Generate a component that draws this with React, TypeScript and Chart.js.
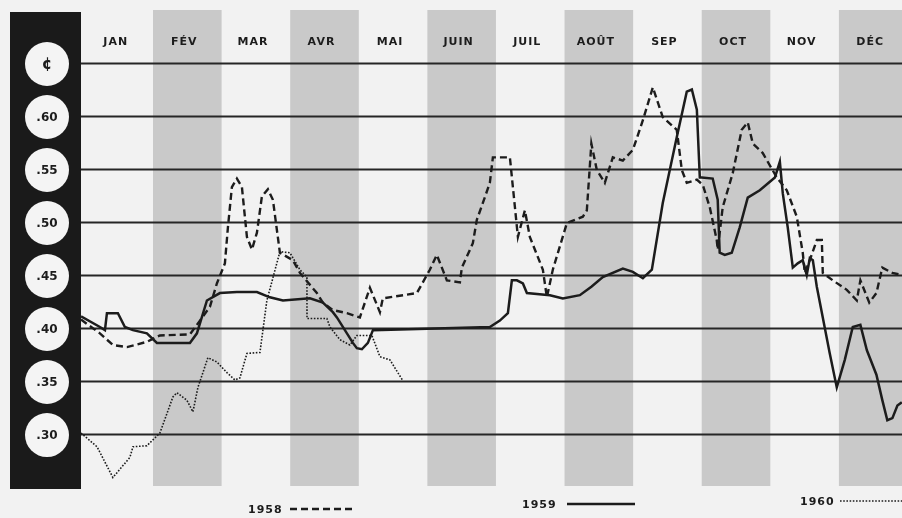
import React, { useEffect, useRef } from "react";
import { Chart, registerables } from "chart.js";

Chart.register(...registerables);

// Month columns along the top
const MONTHS = ["JAN", "FÉV", "MAR", "AVR", "MAI", "JUIN", "JUIL", "AOÛT", "SEP", "OCT", "NOV", "DÉC"];

// Price scale (dollars) and the labels shown in the discs on the left
const PRICE_TICKS = [0.3, 0.35, 0.4, 0.45, 0.5, 0.55, 0.6, 0.65];
const PRICE_LABELS = [".30", ".35", ".40", ".45", ".50", ".55", ".60", "¢"];

const YEARS = ["1958", "1959", "1960"];

// Time is in months counted from 1 January; values are prices in dollars.
const T_1958 = [
  -0.05, 0.226, 0.415, 0.62, 0.911, 1.1, 1.538, 1.684, 1.829, 1.931, 2.048, 2.092, 2.15, 2.223, 2.296,
  2.369, 2.442, 2.515, 2.587, 2.675, 2.748, 2.85, 3.039, 3.142, 3.389, 3.477, 3.622, 3.827, 4.016, 4.162,
  4.308, 4.351, 4.847, 5.036, 5.138, 5.284, 5.474, 5.503, 5.663, 5.721, 5.809, 5.911, 5.955, 6.203, 6.32,
  6.422, 6.494, 6.684, 6.742, 6.829, 7.034, 7.267, 7.325, 7.391, 7.471, 7.587, 7.704, 7.85, 7.996, 8.142,
  8.287, 8.432, 8.636, 8.71, 8.782, 8.929, 9.016, 9.117, 9.219, 9.233, 9.306, 9.452, 9.583, 9.671, 9.745,
  9.89, 10.095, 10.24, 10.386, 10.473, 10.503, 10.576, 10.678, 10.751, 10.765, 10.911, 11.115, 11.261,
  11.313, 11.443, 11.547, 11.633, 11.78, 11.917,
];
const V_1958 = [
  0.408, 0.395, 0.384, 0.382, 0.387, 0.393, 0.394, 0.407, 0.42, 0.442, 0.461, 0.495, 0.533, 0.541, 0.533,
  0.486, 0.474, 0.49, 0.524, 0.531, 0.521, 0.471, 0.464, 0.452, 0.433, 0.424, 0.417, 0.414, 0.41, 0.438,
  0.415, 0.428, 0.433, 0.455, 0.469, 0.445, 0.443, 0.457, 0.48, 0.502, 0.518, 0.537, 0.561, 0.561, 0.486,
  0.511, 0.486, 0.455, 0.429, 0.455, 0.499, 0.505, 0.511, 0.574, 0.549, 0.537, 0.561, 0.558, 0.568, 0.596,
  0.627, 0.599, 0.587, 0.549, 0.537, 0.54, 0.535, 0.514, 0.483, 0.474, 0.514, 0.546, 0.587, 0.594, 0.574,
  0.565, 0.542, 0.53, 0.505, 0.471, 0.452, 0.464, 0.483, 0.483, 0.452, 0.445, 0.436, 0.426, 0.445, 0.424,
  0.433, 0.457, 0.452, 0.45,
];

const T_1959 = [
  -0.05, 0.226, 0.299, 0.328, 0.488, 0.59, 0.707, 0.911, 1.057, 1.538, 1.64, 1.786, 1.975, 2.223, 2.515,
  2.704, 2.894, 3.287, 3.477, 3.622, 3.681, 3.914, 3.972, 4.045, 4.133, 4.206, 5.911, 6.057, 6.174, 6.232,
  6.305, 6.393, 6.451, 6.786, 6.975, 7.223, 7.391, 7.558, 7.85, 7.996, 8.142, 8.273, 8.432, 8.636, 8.782,
  8.856, 8.929, 8.972, 9.001, 9.16, 9.233, 9.262, 9.336, 9.438, 9.554, 9.671, 9.847, 10.067, 10.139, 10.182,
  10.254, 10.328, 10.4, 10.473, 10.531, 10.576, 10.62, 10.678, 10.765, 10.867, 10.969, 11.086, 11.202,
  11.313, 11.408, 11.547, 11.633, 11.706, 11.78, 11.853, 11.917,
];
const V_1959 = [
  0.411, 0.401, 0.398, 0.414, 0.414, 0.401, 0.398, 0.395, 0.386, 0.386, 0.395, 0.426, 0.433, 0.434, 0.434,
  0.429, 0.426, 0.428, 0.424, 0.415, 0.41, 0.386, 0.381, 0.38, 0.386, 0.398, 0.401, 0.407, 0.414, 0.445,
  0.445, 0.442, 0.433, 0.431, 0.428, 0.431, 0.439, 0.448, 0.456, 0.453, 0.447, 0.455, 0.518, 0.58, 0.623,
  0.625, 0.606, 0.542, 0.542, 0.541, 0.521, 0.471, 0.469, 0.471, 0.495, 0.523, 0.53, 0.542, 0.557, 0.527,
  0.495, 0.457, 0.461, 0.464, 0.45, 0.466, 0.464, 0.439, 0.41, 0.376, 0.344, 0.37, 0.401, 0.403, 0.379,
  0.356, 0.332, 0.313, 0.315, 0.327, 0.33,
];

const T_1960 = [
  -0.05, 0.184, 0.415, 0.663, 0.707, 0.911, 1.1, 1.29, 1.348, 1.493, 1.582, 1.655, 1.8, 1.931, 2.077,
  2.194, 2.267, 2.369, 2.559, 2.66, 2.85, 2.996, 3.142, 3.244, 3.245, 3.535, 3.579, 3.724, 3.87, 3.972,
  4.191, 4.308, 4.454, 4.636,
];
const V_1960 = [
  0.301, 0.288, 0.259, 0.278, 0.288, 0.289, 0.301, 0.335, 0.339, 0.332, 0.321, 0.344, 0.372, 0.368, 0.358,
  0.351, 0.353, 0.376, 0.377, 0.426, 0.472, 0.471, 0.455, 0.448, 0.409, 0.409, 0.401, 0.389, 0.384, 0.393,
  0.393, 0.373, 0.37, 0.351,
];

const X_MIN = -0.05;
const X_MAX = 11.92;
const Y_MIN = 0.251;
const Y_MAX = 0.7;

const INK = "#1c1c1c";
const PAPER = "#f2f2f2";
const SHADE = "#c9c9c9";

const SERIES_STYLE = [
  { width: 2.4, dash: [7, 4] },
  { width: 2.5, dash: [] as number[] },
  { width: 1.6, dash: [1.6, 1.6] },
];

const toPoints = (ts: number[], vs: number[]) => ts.map((t, i) => ({ x: t, y: vs[i] }));

const paperPlugin = {
  id: "paper",
  beforeDraw(chart: any) {
    const { ctx, chartArea, scales } = chart;
    const xs = scales.x;
    const ys = scales.y;
    ctx.save();
    ctx.fillStyle = PAPER;
    ctx.fillRect(0, 0, chart.width, chart.height);

    // alternating month columns
    ctx.fillStyle = SHADE;
    for (let i = 1; i < 12; i += 2) {
      const x0 = Math.max(xs.getPixelForValue(i), chartArea.left);
      const x1 = Math.min(xs.getPixelForValue(i + 1), chartArea.right);
      ctx.fillRect(x0, chartArea.top, x1 - x0, chartArea.bottom - chartArea.top);
    }

    // horizontal price lines
    ctx.strokeStyle = "#262626";
    ctx.lineWidth = 1.8;
    PRICE_TICKS.forEach((v) => {
      const y = Math.round(ys.getPixelForValue(v)) + 0.5;
      ctx.beginPath();
      ctx.moveTo(chartArea.left, y);
      ctx.lineTo(chartArea.right, y);
      ctx.stroke();
    });

    // month names
    ctx.fillStyle = INK;
    ctx.font = "bold 11px 'DejaVu Sans', sans-serif";
    (ctx as any).letterSpacing = "1px";
    ctx.textAlign = "center";
    ctx.textBaseline = "middle";
    MONTHS.forEach((m, i) => {
      const cx = xs.getPixelForValue(i + 0.5) - 3;
      ctx.fillText(m, cx, chartArea.top + 32);
    });

    // dark price panel with discs
    ctx.fillStyle = "#1a1a1a";
    ctx.fillRect(10, chartArea.top + 2, chartArea.left - 10, chartArea.bottom - chartArea.top + 1);
    const cx = chartArea.left - 34;
    (ctx as any).letterSpacing = "0px";
    PRICE_TICKS.forEach((v, i) => {
      const cy = ys.getPixelForValue(v) + 1;
      ctx.fillStyle = "#f4f4f4";
      ctx.beginPath();
      ctx.arc(cx, cy, 22, 0, Math.PI * 2);
      ctx.fill();
      ctx.fillStyle = INK;
      ctx.font = PRICE_LABELS[i] === "¢" ? "bold 15px 'DejaVu Sans', sans-serif" : "bold 12px 'DejaVu Sans', sans-serif";
      ctx.fillText(PRICE_LABELS[i], cx, cy + 1);
    });
    ctx.restore();
  },
  afterDraw(chart: any) {
    const { ctx } = chart;
    const spots = [
      { tx: 248, ty: 510, lx0: 290, lx1: 356 },
      { tx: 522, ty: 505, lx0: 567, lx1: 635 },
      { tx: 800, ty: 502, lx0: 840, lx1: 902 },
    ];
    ctx.save();
    ctx.fillStyle = INK;
    ctx.strokeStyle = INK;
    ctx.font = "bold 11px 'DejaVu Sans', sans-serif";
    (ctx as any).letterSpacing = "1px";
    ctx.textAlign = "left";
    ctx.textBaseline = "middle";
    YEARS.forEach((yr, i) => {
      const s = spots[i];
      ctx.fillText(yr, s.tx, s.ty);
      ctx.lineWidth = SERIES_STYLE[i].width;
      ctx.setLineDash(SERIES_STYLE[i].dash);
      ctx.beginPath();
      ctx.moveTo(s.lx0, s.ty - 1);
      ctx.lineTo(s.lx1, s.ty - 1);
      ctx.stroke();
    });
    ctx.restore();
  },
};

export default function App() {
  const canvasRef = useRef<HTMLCanvasElement | null>(null);

  useEffect(() => {
    if (!canvasRef.current) return;
    const seriesData = [toPoints(T_1958, V_1958), toPoints(T_1959, V_1959), toPoints(T_1960, V_1960)];
    const chart = new Chart(canvasRef.current, {
      type: "line",
      data: {
        datasets: YEARS.map((yr, i) => ({
          label: yr,
          data: seriesData[i],
          borderColor: INK,
          borderWidth: SERIES_STYLE[i].width,
          borderDash: SERIES_STYLE[i].dash,
          pointRadius: 0,
          tension: 0,
          fill: false,
        })),
      },
      options: {
        animation: false,
        responsive: false,
        devicePixelRatio: 1,
        layout: { padding: { left: 81, right: 0, top: 10, bottom: 32 } },
        scales: {
          x: { type: "linear", min: X_MIN, max: X_MAX, display: false },
          y: { type: "linear", min: Y_MIN, max: Y_MAX, display: false },
        },
        plugins: {
          legend: { display: false },
          tooltip: { enabled: false },
        },
      },
      plugins: [paperPlugin],
    });
    return () => chart.destroy();
  }, []);

  return (
    <div style={{ position: "fixed", left: 0, top: 0, width: 902, height: 518, background: PAPER }}>
      <canvas ref={canvasRef} width={902} height={518} style={{ display: "block" }} />
    </div>
  );
}
